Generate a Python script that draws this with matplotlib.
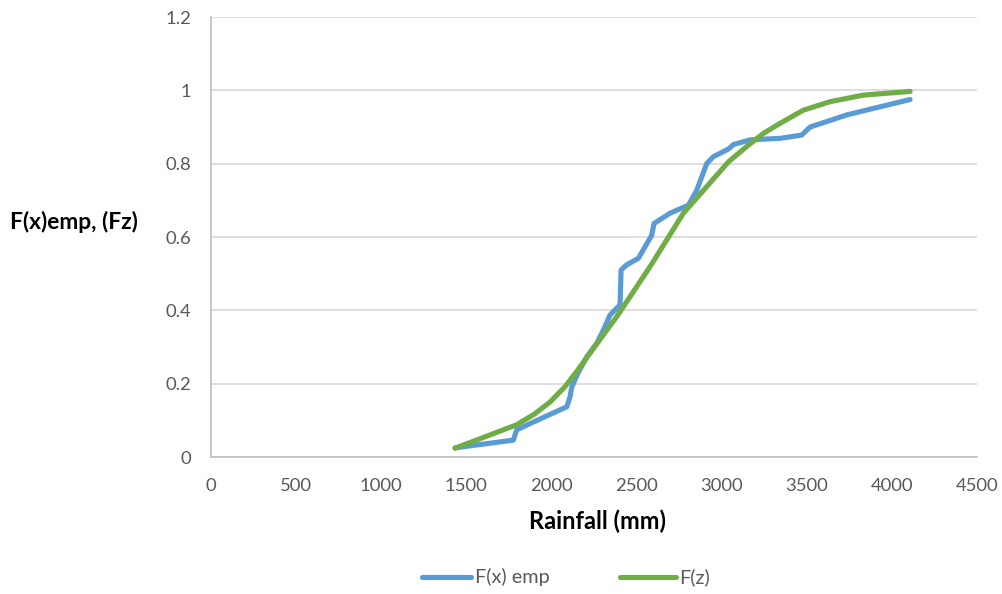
import matplotlib
matplotlib.use("Agg")
import matplotlib.pyplot as plt
from matplotlib.lines import Line2D

# Data
emp_x = [1434, 1776, 1796, 1855, 2090, 2109, 2119, 2156, 2207, 2266, 2305, 2344,
         2403, 2409, 2442, 2511, 2589, 2603, 2697, 2805, 2854, 2912, 2951, 3040,
         3069, 3167, 3343, 3470, 3520, 3735, 4107]
emp_y = [0.025, 0.046, 0.074, 0.087, 0.137, 0.164, 0.190, 0.229, 0.273, 0.310, 0.346, 0.387,
         0.415, 0.510, 0.524, 0.542, 0.605, 0.637, 0.665, 0.687, 0.728, 0.800, 0.819, 0.840,
         0.852, 0.865, 0.869, 0.878, 0.900, 0.933, 0.975]

fz_x = [1434, 1796, 1900, 1992, 2080, 2148, 2200, 2300, 2384, 2500, 2579, 2700, 2775,
        2900, 3040, 3150, 3250, 3343, 3480, 3637, 3833, 4107]
fz_y = [0.024, 0.088, 0.117, 0.150, 0.192, 0.233, 0.266, 0.330, 0.383, 0.464, 0.519, 0.609,
        0.665, 0.731, 0.805, 0.848, 0.884, 0.910, 0.946, 0.969, 0.987, 0.997]

xticks = [0, 500, 1000, 1500, 2000, 2500, 3000, 3500, 4000, 4500]
yticks = [0, 0.2, 0.4, 0.6, 0.8, 1.0, 1.2]
ytick_labels = ["0", "0.2", "0.4", "0.6", "0.8", "1", "1.2"]
series_names = ["F(x) emp", "F(z)"]

plt.rcParams['font.family'] = ['Lato', 'DejaVu Sans']

W, H = 1003, 594
fig = plt.figure(figsize=(W / 100, H / 100), dpi=100)
ax = fig.add_axes([211 / W, 1 - 457 / H, 766 / W, 440 / H])

blue = "#5B9BD5"
green = "#70AD47"
lw = 3.7
ax.plot(emp_x, emp_y, color=blue, lw=lw, solid_capstyle='round', solid_joinstyle='round', zorder=3)
ax.plot(fz_x, fz_y, color=green, lw=lw, solid_capstyle='round', solid_joinstyle='round', zorder=4)

ax.set_xlim(0, 4500)
ax.set_ylim(0, 1.2)
ax.set_xticks(xticks)
ax.set_xticklabels([str(v) for v in xticks])
ax.set_yticks(yticks)
ax.set_yticklabels(ytick_labels)
ax.tick_params(length=0, labelsize=13.3, labelcolor="#595959")
ax.tick_params(axis='x', pad=15)
ax.tick_params(axis='y', pad=14)
ax.grid(axis='y', color="#D9D9D9", lw=1.2)
ax.set_axisbelow(True)
for s in ['top', 'right']:
    ax.spines[s].set_visible(False)
ax.spines['left'].set_color("#BFBFBF")
ax.spines['bottom'].set_color("#BFBFBF")
ax.spines['left'].set_linewidth(1.2)
ax.spines['bottom'].set_linewidth(1.2)

fig.text(73.5 / W, 1 - 222 / H, "F(x)emp, (Fz)", fontsize=16.4, fontweight='bold',
         ha='center', va='center', color="#000000")
fig.text(598 / W, 1 - 521 / H, "Rainfall (mm)", fontsize=17, fontweight='bold',
         ha='center', va='center', color="#000000")

# Legend drawn in figure pixels
ly = 1 - 577 / H
fig.add_artist(Line2D([422 / W, 471 / W], [ly, ly], color=blue, lw=lw, solid_capstyle='round'))
fig.add_artist(Line2D([620 / W, 676 / W], [ly, ly], color=green, lw=lw, solid_capstyle='round'))
fig.text(475 / W, ly, series_names[0], fontsize=14.3, color="#595959", ha='left', va='center')
fig.text(679 / W, ly, series_names[1], fontsize=14.3, color="#595959", ha='left', va='center')

fig.savefig("out.png", dpi=100)
